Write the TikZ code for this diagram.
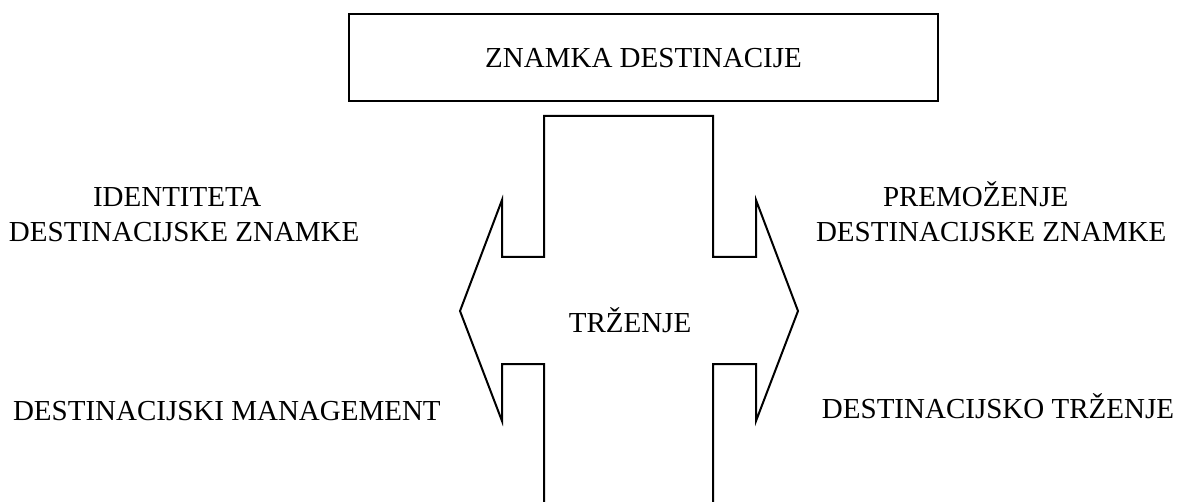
\documentclass[tikz,border=0pt]{standalone}
\usepackage{fontspec}
\setmainfont{Liberation Serif}

\begin{document}
\begin{tikzpicture}[x=0.5pt,y=-0.5pt,line width=1pt]
\tikzstyle{every node}+=[inner sep=0pt,font=\fontsize{14.5}{17}\selectfont]
\useasboundingbox (0,0) rectangle (1183,502);
\node (brand) [draw,black,minimum width=294.5pt,minimum height=43.5pt,text height=9.6pt,text depth=0pt] at (643.5,57.5) {ZNAMKA DESTINACIJE};
\draw [black] (544,502) -- (544,364) -- (502,364) -- (502,421) -- (460,311) -- (502,200) -- (502,257) -- (544,257) -- (544,116) -- (713,116) -- (713,257) -- (756,257) -- (756,200) -- (798,311) -- (756,421) -- (756,364) -- (713,364) -- (713,502);
\node (mkt) [anchor=base] at (630,332) {TRŽENJE};
\node (identity1) [anchor=base west] at (92,207) {IDENTITETA};
\node (identity2) [anchor=base west] at (8,242) {DESTINACIJSKE ZNAMKE};
\node (equity1) [anchor=base west] at (882,207) {PREMOŽENJE};
\node (equity2) [anchor=base west] at (815,242) {DESTINACIJSKE ZNAMKE};
\node (mgmt) [anchor=base west] at (12,420) {DESTINACIJSKI MANAGEMENT};
\node (dmkt) [anchor=base] at (998,418) {DESTINACIJSKO TRŽENJE};
\end{tikzpicture}
\end{document}
